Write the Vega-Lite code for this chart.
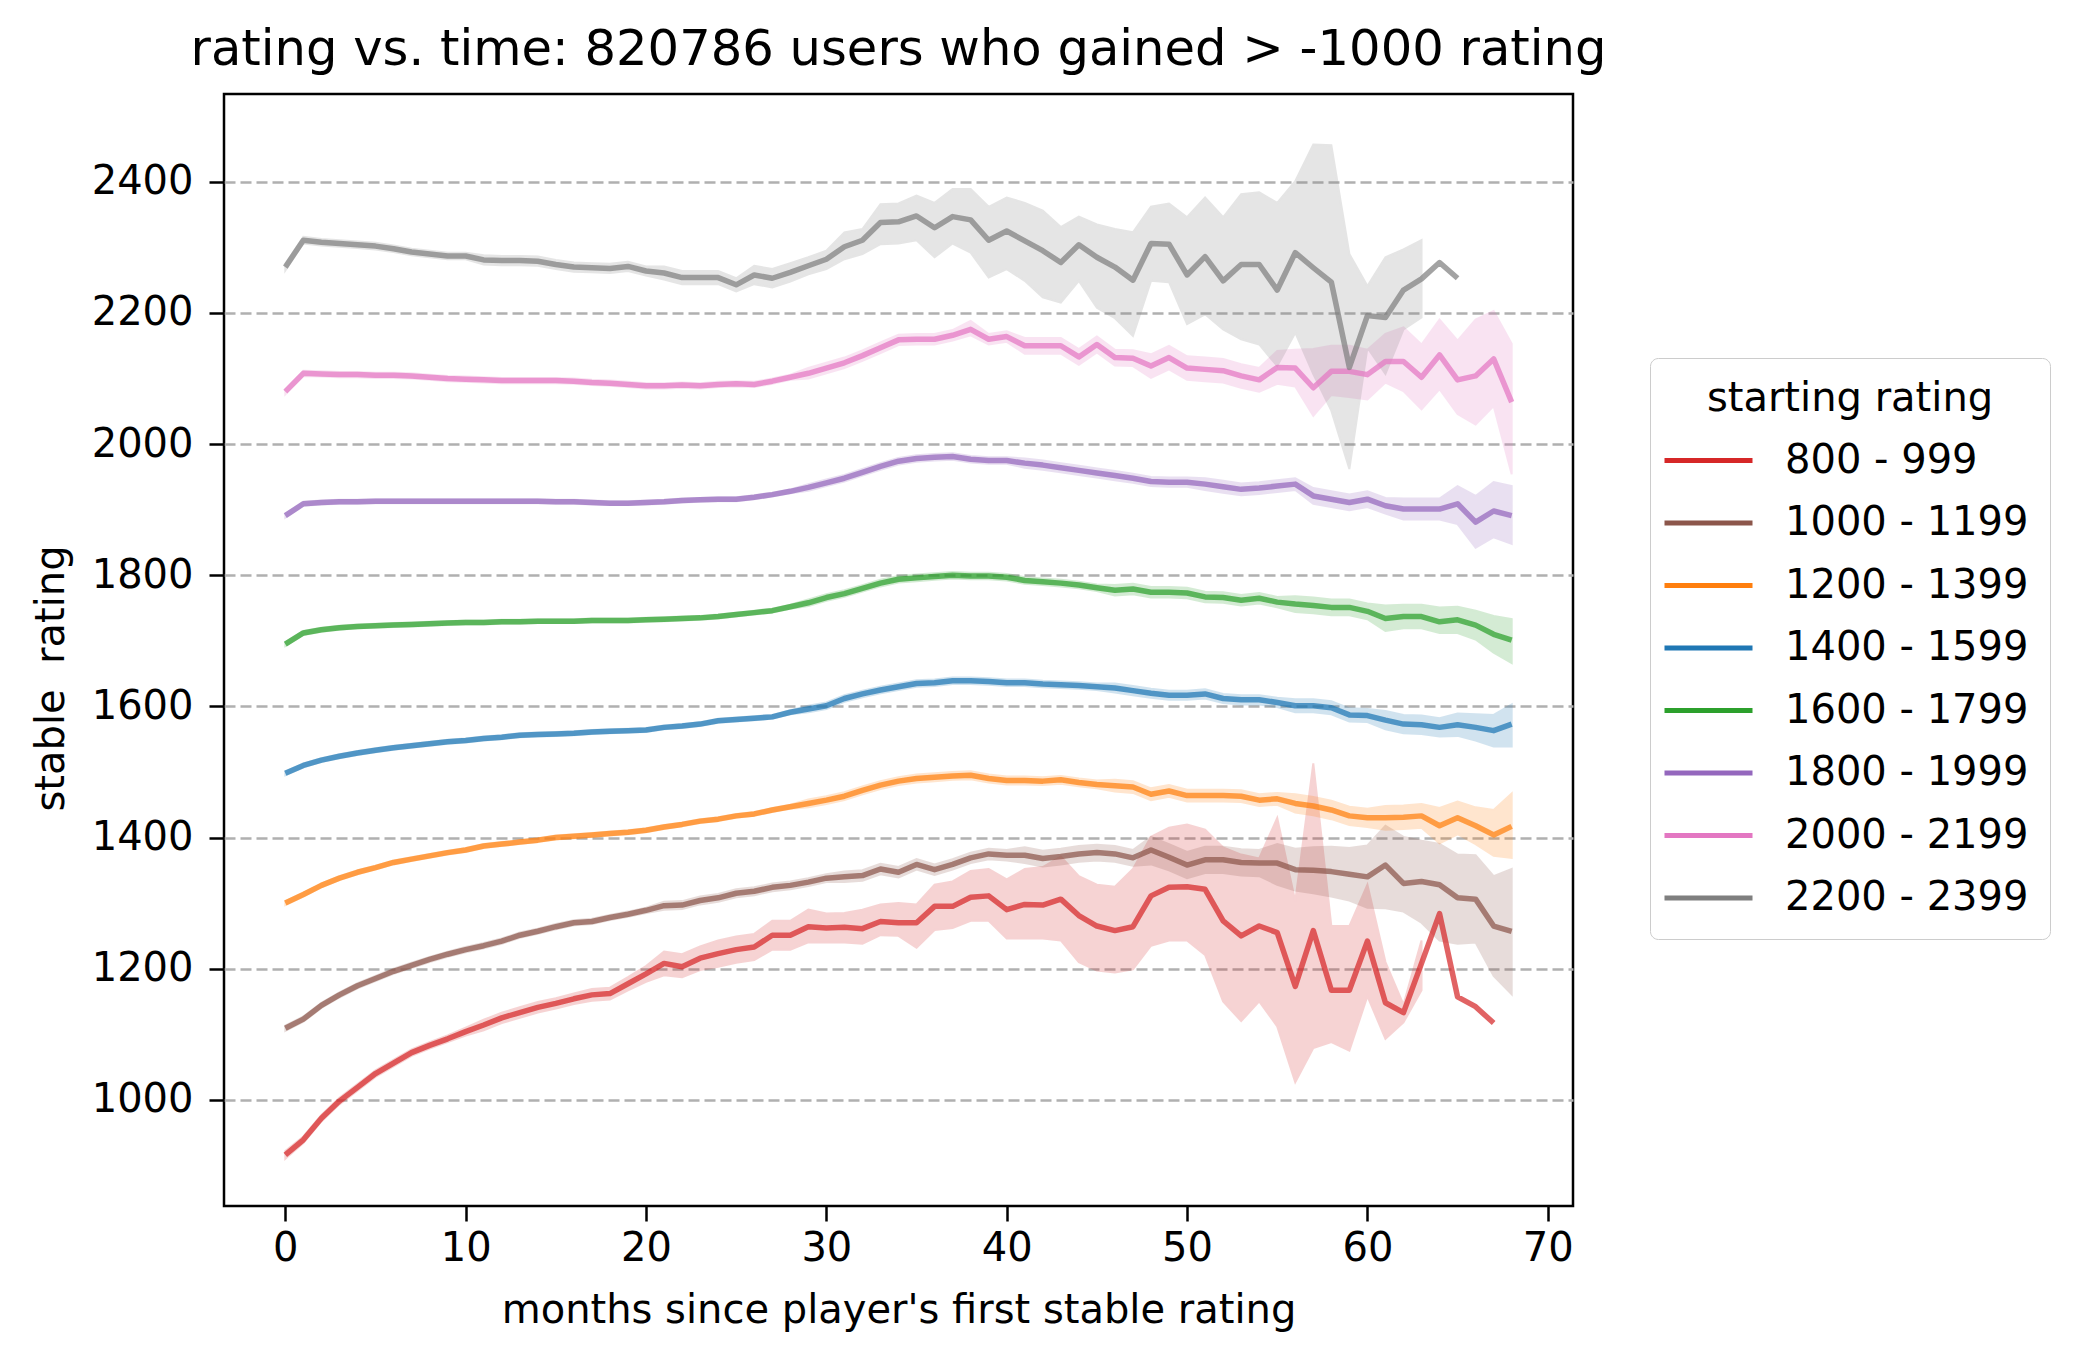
{
  "$schema": "https://vega.github.io/schema/vega-lite/v6.json",
  "autosize": {"type": "none"},
  "padding": {"left": 224, "top": 94, "right": 511, "bottom": 155},
  "width": 1349,
  "height": 1112,
  "background": "white",
  "title": {
    "text": "rating vs. time: 820786 users who gained > -1000 rating",
    "fontSize": 49.6,
    "fontWeight": "normal",
    "font": "DejaVu Sans",
    "color": "black",
    "anchor": "middle",
    "offset": 18
  },
  "data": {
    "values": [
      {"s":"800 - 999","m":0,"v":916,"lo":910,"hi":922},
      {"s":"800 - 999","m":1,"v":939,"lo":934,"hi":944},
      {"s":"800 - 999","m":2,"v":972,"lo":967,"hi":977},
      {"s":"800 - 999","m":3,"v":998,"lo":993,"hi":1003},
      {"s":"800 - 999","m":4,"v":1019,"lo":1014,"hi":1024},
      {"s":"800 - 999","m":5,"v":1040,"lo":1035,"hi":1045},
      {"s":"800 - 999","m":6,"v":1056,"lo":1051,"hi":1061},
      {"s":"800 - 999","m":7,"v":1072,"lo":1067,"hi":1077},
      {"s":"800 - 999","m":8,"v":1083,"lo":1078,"hi":1088},
      {"s":"800 - 999","m":9,"v":1093,"lo":1088,"hi":1098},
      {"s":"800 - 999","m":10,"v":1104,"lo":1098,"hi":1110},
      {"s":"800 - 999","m":11,"v":1114,"lo":1106,"hi":1122},
      {"s":"800 - 999","m":12,"v":1125,"lo":1117,"hi":1133},
      {"s":"800 - 999","m":13,"v":1133,"lo":1125,"hi":1141},
      {"s":"800 - 999","m":14,"v":1141,"lo":1133,"hi":1149},
      {"s":"800 - 999","m":15,"v":1147,"lo":1139,"hi":1155},
      {"s":"800 - 999","m":16,"v":1154,"lo":1146,"hi":1162},
      {"s":"800 - 999","m":17,"v":1160,"lo":1151,"hi":1169},
      {"s":"800 - 999","m":18,"v":1162,"lo":1153,"hi":1171},
      {"s":"800 - 999","m":19,"v":1177,"lo":1167,"hi":1187},
      {"s":"800 - 999","m":20,"v":1192,"lo":1180,"hi":1204},
      {"s":"800 - 999","m":21,"v":1208,"lo":1190,"hi":1226},
      {"s":"800 - 999","m":22,"v":1203,"lo":1187,"hi":1222},
      {"s":"800 - 999","m":23,"v":1216,"lo":1198,"hi":1234},
      {"s":"800 - 999","m":24,"v":1223,"lo":1203,"hi":1243},
      {"s":"800 - 999","m":25,"v":1229,"lo":1209,"hi":1249},
      {"s":"800 - 999","m":26,"v":1233,"lo":1213,"hi":1253},
      {"s":"800 - 999","m":27,"v":1251,"lo":1229,"hi":1273},
      {"s":"800 - 999","m":28,"v":1251,"lo":1229,"hi":1273},
      {"s":"800 - 999","m":29,"v":1264,"lo":1240,"hi":1290},
      {"s":"800 - 999","m":30,"v":1262,"lo":1240,"hi":1284},
      {"s":"800 - 999","m":31,"v":1263,"lo":1240,"hi":1285},
      {"s":"800 - 999","m":32,"v":1261,"lo":1238,"hi":1290},
      {"s":"800 - 999","m":33,"v":1272,"lo":1251,"hi":1298},
      {"s":"800 - 999","m":34,"v":1270,"lo":1250,"hi":1300},
      {"s":"800 - 999","m":35,"v":1270,"lo":1232,"hi":1298},
      {"s":"800 - 999","m":36,"v":1295,"lo":1259,"hi":1328},
      {"s":"800 - 999","m":37,"v":1295,"lo":1262,"hi":1333},
      {"s":"800 - 999","m":38,"v":1309,"lo":1273,"hi":1349},
      {"s":"800 - 999","m":39,"v":1311,"lo":1273,"hi":1352},
      {"s":"800 - 999","m":40,"v":1290,"lo":1246,"hi":1336},
      {"s":"800 - 999","m":41,"v":1298,"lo":1246,"hi":1352},
      {"s":"800 - 999","m":42,"v":1297,"lo":1246,"hi":1355},
      {"s":"800 - 999","m":43,"v":1306,"lo":1243,"hi":1371},
      {"s":"800 - 999","m":44,"v":1281,"lo":1210,"hi":1341},
      {"s":"800 - 999","m":45,"v":1265,"lo":1197,"hi":1328},
      {"s":"800 - 999","m":46,"v":1258,"lo":1194,"hi":1325},
      {"s":"800 - 999","m":47,"v":1264,"lo":1199,"hi":1352},
      {"s":"800 - 999","m":48,"v":1311,"lo":1235,"hi":1401},
      {"s":"800 - 999","m":49,"v":1324,"lo":1243,"hi":1415},
      {"s":"800 - 999","m":50,"v":1325,"lo":1243,"hi":1420},
      {"s":"800 - 999","m":51,"v":1321,"lo":1221,"hi":1412},
      {"s":"800 - 999","m":52,"v":1273,"lo":1150,"hi":1385},
      {"s":"800 - 999","m":53,"v":1250,"lo":1120,"hi":1374},
      {"s":"800 - 999","m":54,"v":1265,"lo":1150,"hi":1368},
      {"s":"800 - 999","m":55,"v":1255,"lo":1112,"hi":1430},
      {"s":"800 - 999","m":56,"v":1173,"lo":1027,"hi":1303},
      {"s":"800 - 999","m":57,"v":1258,"lo":1079,"hi":1513},
      {"s":"800 - 999","m":58,"v":1167,"lo":1088,"hi":1265},
      {"s":"800 - 999","m":59,"v":1167,"lo":1075,"hi":1265},
      {"s":"800 - 999","m":60,"v":1242,"lo":1158,"hi":1328},
      {"s":"800 - 999","m":61,"v":1148,"lo":1093,"hi":1210},
      {"s":"800 - 999","m":62,"v":1133,"lo":1118,"hi":1145},
      {"s":"800 - 999","m":63,"v":1208,"lo":1167,"hi":1243},
      {"s":"800 - 999","m":64,"v":1284},
      {"s":"800 - 999","m":65,"v":1157},
      {"s":"800 - 999","m":66,"v":1142},
      {"s":"800 - 999","m":67,"v":1117},

      {"s":"1000 - 1199","m":0,"v":1109,"lo":1105,"hi":1113},
      {"s":"1000 - 1199","m":1,"v":1123,"lo":1119,"hi":1127},
      {"s":"1000 - 1199","m":2,"v":1144,"lo":1140,"hi":1148},
      {"s":"1000 - 1199","m":3,"v":1160,"lo":1156,"hi":1164},
      {"s":"1000 - 1199","m":4,"v":1174,"lo":1170,"hi":1178},
      {"s":"1000 - 1199","m":5,"v":1185,"lo":1181,"hi":1189},
      {"s":"1000 - 1199","m":6,"v":1196,"lo":1192,"hi":1200},
      {"s":"1000 - 1199","m":7,"v":1205,"lo":1201,"hi":1209},
      {"s":"1000 - 1199","m":8,"v":1214,"lo":1210,"hi":1218},
      {"s":"1000 - 1199","m":9,"v":1222,"lo":1218,"hi":1226},
      {"s":"1000 - 1199","m":10,"v":1229,"lo":1225,"hi":1233},
      {"s":"1000 - 1199","m":11,"v":1235,"lo":1231,"hi":1239},
      {"s":"1000 - 1199","m":12,"v":1242,"lo":1238,"hi":1246},
      {"s":"1000 - 1199","m":13,"v":1251,"lo":1247,"hi":1255},
      {"s":"1000 - 1199","m":14,"v":1257,"lo":1253,"hi":1261},
      {"s":"1000 - 1199","m":15,"v":1264,"lo":1260,"hi":1268},
      {"s":"1000 - 1199","m":16,"v":1270,"lo":1266,"hi":1274},
      {"s":"1000 - 1199","m":17,"v":1272,"lo":1268,"hi":1276},
      {"s":"1000 - 1199","m":18,"v":1278,"lo":1274,"hi":1282},
      {"s":"1000 - 1199","m":19,"v":1283,"lo":1279,"hi":1287},
      {"s":"1000 - 1199","m":20,"v":1289,"lo":1285,"hi":1293},
      {"s":"1000 - 1199","m":21,"v":1296,"lo":1290,"hi":1302},
      {"s":"1000 - 1199","m":22,"v":1297,"lo":1291,"hi":1303},
      {"s":"1000 - 1199","m":23,"v":1304,"lo":1298,"hi":1310},
      {"s":"1000 - 1199","m":24,"v":1308,"lo":1302,"hi":1314},
      {"s":"1000 - 1199","m":25,"v":1315,"lo":1309,"hi":1321},
      {"s":"1000 - 1199","m":26,"v":1318,"lo":1312,"hi":1324},
      {"s":"1000 - 1199","m":27,"v":1324,"lo":1318,"hi":1330},
      {"s":"1000 - 1199","m":28,"v":1327,"lo":1321,"hi":1333},
      {"s":"1000 - 1199","m":29,"v":1332,"lo":1326,"hi":1338},
      {"s":"1000 - 1199","m":30,"v":1338,"lo":1332,"hi":1344},
      {"s":"1000 - 1199","m":31,"v":1340,"lo":1332,"hi":1348},
      {"s":"1000 - 1199","m":32,"v":1342,"lo":1334,"hi":1350},
      {"s":"1000 - 1199","m":33,"v":1352,"lo":1344,"hi":1360},
      {"s":"1000 - 1199","m":34,"v":1347,"lo":1339,"hi":1355},
      {"s":"1000 - 1199","m":35,"v":1359,"lo":1351,"hi":1367},
      {"s":"1000 - 1199","m":36,"v":1351,"lo":1343,"hi":1359},
      {"s":"1000 - 1199","m":37,"v":1359,"lo":1351,"hi":1367},
      {"s":"1000 - 1199","m":38,"v":1369,"lo":1361,"hi":1377},
      {"s":"1000 - 1199","m":39,"v":1375,"lo":1367,"hi":1383},
      {"s":"1000 - 1199","m":40,"v":1373,"lo":1365,"hi":1381},
      {"s":"1000 - 1199","m":41,"v":1373,"lo":1361,"hi":1385},
      {"s":"1000 - 1199","m":42,"v":1368,"lo":1356,"hi":1380},
      {"s":"1000 - 1199","m":43,"v":1371,"lo":1359,"hi":1383},
      {"s":"1000 - 1199","m":44,"v":1375,"lo":1363,"hi":1387},
      {"s":"1000 - 1199","m":45,"v":1377,"lo":1365,"hi":1389},
      {"s":"1000 - 1199","m":46,"v":1375,"lo":1363,"hi":1387},
      {"s":"1000 - 1199","m":47,"v":1369,"lo":1357,"hi":1381},
      {"s":"1000 - 1199","m":48,"v":1381,"lo":1359,"hi":1401},
      {"s":"1000 - 1199","m":49,"v":1370,"lo":1350,"hi":1390},
      {"s":"1000 - 1199","m":50,"v":1358,"lo":1338,"hi":1378},
      {"s":"1000 - 1199","m":51,"v":1366,"lo":1346,"hi":1386},
      {"s":"1000 - 1199","m":52,"v":1366,"lo":1346,"hi":1386},
      {"s":"1000 - 1199","m":53,"v":1362,"lo":1342,"hi":1382},
      {"s":"1000 - 1199","m":54,"v":1361,"lo":1341,"hi":1381},
      {"s":"1000 - 1199","m":55,"v":1361,"lo":1328,"hi":1390},
      {"s":"1000 - 1199","m":56,"v":1351,"lo":1319,"hi":1383},
      {"s":"1000 - 1199","m":57,"v":1350,"lo":1315,"hi":1385},
      {"s":"1000 - 1199","m":58,"v":1348,"lo":1310,"hi":1386},
      {"s":"1000 - 1199","m":59,"v":1344,"lo":1304,"hi":1384},
      {"s":"1000 - 1199","m":60,"v":1340,"lo":1293,"hi":1388},
      {"s":"1000 - 1199","m":61,"v":1358,"lo":1292,"hi":1418},
      {"s":"1000 - 1199","m":62,"v":1330,"lo":1287,"hi":1401},
      {"s":"1000 - 1199","m":63,"v":1333,"lo":1270,"hi":1395},
      {"s":"1000 - 1199","m":64,"v":1328,"lo":1243,"hi":1390},
      {"s":"1000 - 1199","m":65,"v":1308,"lo":1238,"hi":1374},
      {"s":"1000 - 1199","m":66,"v":1306,"lo":1240,"hi":1373},
      {"s":"1000 - 1199","m":67,"v":1265,"lo":1189,"hi":1341},
      {"s":"1000 - 1199","m":68,"v":1257,"lo":1161,"hi":1352},

      {"s":"1200 - 1399","m":0,"v":1300,"lo":1297,"hi":1303},
      {"s":"1200 - 1399","m":1,"v":1313,"lo":1310,"hi":1316},
      {"s":"1200 - 1399","m":2,"v":1327,"lo":1324,"hi":1330},
      {"s":"1200 - 1399","m":3,"v":1338,"lo":1335,"hi":1341},
      {"s":"1200 - 1399","m":4,"v":1347,"lo":1344,"hi":1350},
      {"s":"1200 - 1399","m":5,"v":1354,"lo":1351,"hi":1357},
      {"s":"1200 - 1399","m":6,"v":1362,"lo":1359,"hi":1365},
      {"s":"1200 - 1399","m":7,"v":1367,"lo":1364,"hi":1370},
      {"s":"1200 - 1399","m":8,"v":1372,"lo":1369,"hi":1375},
      {"s":"1200 - 1399","m":9,"v":1377,"lo":1374,"hi":1380},
      {"s":"1200 - 1399","m":10,"v":1381,"lo":1378,"hi":1384},
      {"s":"1200 - 1399","m":11,"v":1387,"lo":1384,"hi":1390},
      {"s":"1200 - 1399","m":12,"v":1390,"lo":1387,"hi":1393},
      {"s":"1200 - 1399","m":13,"v":1393,"lo":1390,"hi":1396},
      {"s":"1200 - 1399","m":14,"v":1396,"lo":1393,"hi":1399},
      {"s":"1200 - 1399","m":15,"v":1400,"lo":1397,"hi":1403},
      {"s":"1200 - 1399","m":16,"v":1402,"lo":1399,"hi":1405},
      {"s":"1200 - 1399","m":17,"v":1404,"lo":1401,"hi":1407},
      {"s":"1200 - 1399","m":18,"v":1406,"lo":1403,"hi":1409},
      {"s":"1200 - 1399","m":19,"v":1408,"lo":1405,"hi":1411},
      {"s":"1200 - 1399","m":20,"v":1411,"lo":1408,"hi":1414},
      {"s":"1200 - 1399","m":21,"v":1416,"lo":1413,"hi":1419},
      {"s":"1200 - 1399","m":22,"v":1420,"lo":1417,"hi":1423},
      {"s":"1200 - 1399","m":23,"v":1425,"lo":1422,"hi":1428},
      {"s":"1200 - 1399","m":24,"v":1428,"lo":1425,"hi":1431},
      {"s":"1200 - 1399","m":25,"v":1433,"lo":1430,"hi":1436},
      {"s":"1200 - 1399","m":26,"v":1436,"lo":1433,"hi":1439},
      {"s":"1200 - 1399","m":27,"v":1442,"lo":1439,"hi":1445},
      {"s":"1200 - 1399","m":28,"v":1447,"lo":1444,"hi":1450},
      {"s":"1200 - 1399","m":29,"v":1452,"lo":1446,"hi":1458},
      {"s":"1200 - 1399","m":30,"v":1457,"lo":1451,"hi":1463},
      {"s":"1200 - 1399","m":31,"v":1463,"lo":1457,"hi":1469},
      {"s":"1200 - 1399","m":32,"v":1472,"lo":1466,"hi":1478},
      {"s":"1200 - 1399","m":33,"v":1480,"lo":1474,"hi":1486},
      {"s":"1200 - 1399","m":34,"v":1486,"lo":1480,"hi":1492},
      {"s":"1200 - 1399","m":35,"v":1490,"lo":1484,"hi":1496},
      {"s":"1200 - 1399","m":36,"v":1492,"lo":1486,"hi":1498},
      {"s":"1200 - 1399","m":37,"v":1494,"lo":1488,"hi":1500},
      {"s":"1200 - 1399","m":38,"v":1495,"lo":1489,"hi":1501},
      {"s":"1200 - 1399","m":39,"v":1490,"lo":1484,"hi":1496},
      {"s":"1200 - 1399","m":40,"v":1487,"lo":1481,"hi":1493},
      {"s":"1200 - 1399","m":41,"v":1487,"lo":1481,"hi":1493},
      {"s":"1200 - 1399","m":42,"v":1486,"lo":1480,"hi":1492},
      {"s":"1200 - 1399","m":43,"v":1488,"lo":1482,"hi":1494},
      {"s":"1200 - 1399","m":44,"v":1484,"lo":1478,"hi":1490},
      {"s":"1200 - 1399","m":45,"v":1481,"lo":1475,"hi":1487},
      {"s":"1200 - 1399","m":46,"v":1479,"lo":1470,"hi":1488},
      {"s":"1200 - 1399","m":47,"v":1477,"lo":1468,"hi":1486},
      {"s":"1200 - 1399","m":48,"v":1466,"lo":1457,"hi":1475},
      {"s":"1200 - 1399","m":49,"v":1471,"lo":1462,"hi":1480},
      {"s":"1200 - 1399","m":50,"v":1464,"lo":1455,"hi":1473},
      {"s":"1200 - 1399","m":51,"v":1464,"lo":1455,"hi":1473},
      {"s":"1200 - 1399","m":52,"v":1464,"lo":1455,"hi":1473},
      {"s":"1200 - 1399","m":53,"v":1463,"lo":1454,"hi":1472},
      {"s":"1200 - 1399","m":54,"v":1457,"lo":1448,"hi":1466},
      {"s":"1200 - 1399","m":55,"v":1459,"lo":1450,"hi":1468},
      {"s":"1200 - 1399","m":56,"v":1452,"lo":1438,"hi":1466},
      {"s":"1200 - 1399","m":57,"v":1448,"lo":1434,"hi":1462},
      {"s":"1200 - 1399","m":58,"v":1442,"lo":1428,"hi":1456},
      {"s":"1200 - 1399","m":59,"v":1433,"lo":1419,"hi":1447},
      {"s":"1200 - 1399","m":60,"v":1430,"lo":1416,"hi":1444},
      {"s":"1200 - 1399","m":61,"v":1430,"lo":1412,"hi":1448},
      {"s":"1200 - 1399","m":62,"v":1431,"lo":1413,"hi":1449},
      {"s":"1200 - 1399","m":63,"v":1433,"lo":1415,"hi":1451},
      {"s":"1200 - 1399","m":64,"v":1418,"lo":1391,"hi":1445},
      {"s":"1200 - 1399","m":65,"v":1430,"lo":1405,"hi":1455},
      {"s":"1200 - 1399","m":66,"v":1418,"lo":1390,"hi":1446},
      {"s":"1200 - 1399","m":67,"v":1404,"lo":1372,"hi":1442},
      {"s":"1200 - 1399","m":68,"v":1417,"lo":1369,"hi":1467},

      {"s":"1400 - 1599","m":0,"v":1498,"lo":1495,"hi":1501},
      {"s":"1400 - 1599","m":1,"v":1510,"lo":1507,"hi":1513},
      {"s":"1400 - 1599","m":2,"v":1518,"lo":1515,"hi":1521},
      {"s":"1400 - 1599","m":3,"v":1524,"lo":1521,"hi":1527},
      {"s":"1400 - 1599","m":4,"v":1529,"lo":1526,"hi":1532},
      {"s":"1400 - 1599","m":5,"v":1533,"lo":1530,"hi":1536},
      {"s":"1400 - 1599","m":6,"v":1537,"lo":1534,"hi":1540},
      {"s":"1400 - 1599","m":7,"v":1540,"lo":1537,"hi":1543},
      {"s":"1400 - 1599","m":8,"v":1543,"lo":1540,"hi":1546},
      {"s":"1400 - 1599","m":9,"v":1546,"lo":1543,"hi":1549},
      {"s":"1400 - 1599","m":10,"v":1548,"lo":1545,"hi":1551},
      {"s":"1400 - 1599","m":11,"v":1551,"lo":1548,"hi":1554},
      {"s":"1400 - 1599","m":12,"v":1553,"lo":1550,"hi":1556},
      {"s":"1400 - 1599","m":13,"v":1556,"lo":1553,"hi":1559},
      {"s":"1400 - 1599","m":14,"v":1557,"lo":1554,"hi":1560},
      {"s":"1400 - 1599","m":15,"v":1558,"lo":1555,"hi":1561},
      {"s":"1400 - 1599","m":16,"v":1559,"lo":1556,"hi":1562},
      {"s":"1400 - 1599","m":17,"v":1561,"lo":1558,"hi":1564},
      {"s":"1400 - 1599","m":18,"v":1562,"lo":1559,"hi":1565},
      {"s":"1400 - 1599","m":19,"v":1563,"lo":1560,"hi":1566},
      {"s":"1400 - 1599","m":20,"v":1564,"lo":1561,"hi":1567},
      {"s":"1400 - 1599","m":21,"v":1568,"lo":1565,"hi":1571},
      {"s":"1400 - 1599","m":22,"v":1570,"lo":1567,"hi":1573},
      {"s":"1400 - 1599","m":23,"v":1573,"lo":1570,"hi":1576},
      {"s":"1400 - 1599","m":24,"v":1578,"lo":1575,"hi":1581},
      {"s":"1400 - 1599","m":25,"v":1580,"lo":1577,"hi":1583},
      {"s":"1400 - 1599","m":26,"v":1582,"lo":1579,"hi":1585},
      {"s":"1400 - 1599","m":27,"v":1584,"lo":1581,"hi":1587},
      {"s":"1400 - 1599","m":28,"v":1591,"lo":1588,"hi":1594},
      {"s":"1400 - 1599","m":29,"v":1596,"lo":1591,"hi":1601},
      {"s":"1400 - 1599","m":30,"v":1601,"lo":1596,"hi":1606},
      {"s":"1400 - 1599","m":31,"v":1612,"lo":1607,"hi":1617},
      {"s":"1400 - 1599","m":32,"v":1619,"lo":1614,"hi":1624},
      {"s":"1400 - 1599","m":33,"v":1625,"lo":1620,"hi":1630},
      {"s":"1400 - 1599","m":34,"v":1630,"lo":1625,"hi":1635},
      {"s":"1400 - 1599","m":35,"v":1635,"lo":1630,"hi":1640},
      {"s":"1400 - 1599","m":36,"v":1636,"lo":1631,"hi":1641},
      {"s":"1400 - 1599","m":37,"v":1639,"lo":1634,"hi":1644},
      {"s":"1400 - 1599","m":38,"v":1639,"lo":1634,"hi":1644},
      {"s":"1400 - 1599","m":39,"v":1638,"lo":1633,"hi":1643},
      {"s":"1400 - 1599","m":40,"v":1636,"lo":1631,"hi":1641},
      {"s":"1400 - 1599","m":41,"v":1636,"lo":1631,"hi":1641},
      {"s":"1400 - 1599","m":42,"v":1634,"lo":1629,"hi":1639},
      {"s":"1400 - 1599","m":43,"v":1633,"lo":1628,"hi":1638},
      {"s":"1400 - 1599","m":44,"v":1632,"lo":1627,"hi":1637},
      {"s":"1400 - 1599","m":45,"v":1630,"lo":1625,"hi":1635},
      {"s":"1400 - 1599","m":46,"v":1628,"lo":1621,"hi":1635},
      {"s":"1400 - 1599","m":47,"v":1624,"lo":1617,"hi":1631},
      {"s":"1400 - 1599","m":48,"v":1620,"lo":1613,"hi":1627},
      {"s":"1400 - 1599","m":49,"v":1617,"lo":1610,"hi":1624},
      {"s":"1400 - 1599","m":50,"v":1617,"lo":1610,"hi":1624},
      {"s":"1400 - 1599","m":51,"v":1619,"lo":1612,"hi":1626},
      {"s":"1400 - 1599","m":52,"v":1612,"lo":1605,"hi":1619},
      {"s":"1400 - 1599","m":53,"v":1610,"lo":1603,"hi":1617},
      {"s":"1400 - 1599","m":54,"v":1610,"lo":1603,"hi":1617},
      {"s":"1400 - 1599","m":55,"v":1606,"lo":1599,"hi":1613},
      {"s":"1400 - 1599","m":56,"v":1601,"lo":1591,"hi":1611},
      {"s":"1400 - 1599","m":57,"v":1601,"lo":1591,"hi":1611},
      {"s":"1400 - 1599","m":58,"v":1598,"lo":1588,"hi":1608},
      {"s":"1400 - 1599","m":59,"v":1587,"lo":1577,"hi":1597},
      {"s":"1400 - 1599","m":60,"v":1586,"lo":1576,"hi":1596},
      {"s":"1400 - 1599","m":61,"v":1579,"lo":1565,"hi":1593},
      {"s":"1400 - 1599","m":62,"v":1573,"lo":1559,"hi":1587},
      {"s":"1400 - 1599","m":63,"v":1572,"lo":1558,"hi":1586},
      {"s":"1400 - 1599","m":64,"v":1568,"lo":1554,"hi":1582},
      {"s":"1400 - 1599","m":65,"v":1572,"lo":1555,"hi":1589},
      {"s":"1400 - 1599","m":66,"v":1568,"lo":1548,"hi":1588},
      {"s":"1400 - 1599","m":67,"v":1563,"lo":1539,"hi":1587},
      {"s":"1400 - 1599","m":68,"v":1573,"lo":1539,"hi":1603},

      {"s":"1600 - 1799","m":0,"v":1695,"lo":1692,"hi":1698},
      {"s":"1600 - 1799","m":1,"v":1712,"lo":1709,"hi":1715},
      {"s":"1600 - 1799","m":2,"v":1717,"lo":1714,"hi":1720},
      {"s":"1600 - 1799","m":3,"v":1720,"lo":1717,"hi":1723},
      {"s":"1600 - 1799","m":4,"v":1722,"lo":1719,"hi":1725},
      {"s":"1600 - 1799","m":5,"v":1723,"lo":1720,"hi":1726},
      {"s":"1600 - 1799","m":6,"v":1724,"lo":1721,"hi":1727},
      {"s":"1600 - 1799","m":7,"v":1725,"lo":1722,"hi":1728},
      {"s":"1600 - 1799","m":8,"v":1726,"lo":1723,"hi":1729},
      {"s":"1600 - 1799","m":9,"v":1727,"lo":1724,"hi":1730},
      {"s":"1600 - 1799","m":10,"v":1728,"lo":1725,"hi":1731},
      {"s":"1600 - 1799","m":11,"v":1728,"lo":1725,"hi":1731},
      {"s":"1600 - 1799","m":12,"v":1729,"lo":1726,"hi":1732},
      {"s":"1600 - 1799","m":13,"v":1729,"lo":1726,"hi":1732},
      {"s":"1600 - 1799","m":14,"v":1730,"lo":1727,"hi":1733},
      {"s":"1600 - 1799","m":15,"v":1730,"lo":1727,"hi":1733},
      {"s":"1600 - 1799","m":16,"v":1730,"lo":1727,"hi":1733},
      {"s":"1600 - 1799","m":17,"v":1731,"lo":1728,"hi":1734},
      {"s":"1600 - 1799","m":18,"v":1731,"lo":1728,"hi":1734},
      {"s":"1600 - 1799","m":19,"v":1731,"lo":1728,"hi":1734},
      {"s":"1600 - 1799","m":20,"v":1732,"lo":1729,"hi":1735},
      {"s":"1600 - 1799","m":21,"v":1733,"lo":1730,"hi":1736},
      {"s":"1600 - 1799","m":22,"v":1734,"lo":1731,"hi":1737},
      {"s":"1600 - 1799","m":23,"v":1735,"lo":1732,"hi":1738},
      {"s":"1600 - 1799","m":24,"v":1737,"lo":1734,"hi":1740},
      {"s":"1600 - 1799","m":25,"v":1740,"lo":1737,"hi":1743},
      {"s":"1600 - 1799","m":26,"v":1743,"lo":1740,"hi":1746},
      {"s":"1600 - 1799","m":27,"v":1746,"lo":1743,"hi":1749},
      {"s":"1600 - 1799","m":28,"v":1752,"lo":1749,"hi":1755},
      {"s":"1600 - 1799","m":29,"v":1758,"lo":1753,"hi":1763},
      {"s":"1600 - 1799","m":30,"v":1766,"lo":1761,"hi":1771},
      {"s":"1600 - 1799","m":31,"v":1772,"lo":1767,"hi":1777},
      {"s":"1600 - 1799","m":32,"v":1780,"lo":1775,"hi":1785},
      {"s":"1600 - 1799","m":33,"v":1788,"lo":1783,"hi":1793},
      {"s":"1600 - 1799","m":34,"v":1794,"lo":1789,"hi":1799},
      {"s":"1600 - 1799","m":35,"v":1796,"lo":1791,"hi":1801},
      {"s":"1600 - 1799","m":36,"v":1798,"lo":1793,"hi":1803},
      {"s":"1600 - 1799","m":37,"v":1800,"lo":1795,"hi":1805},
      {"s":"1600 - 1799","m":38,"v":1799,"lo":1794,"hi":1804},
      {"s":"1600 - 1799","m":39,"v":1799,"lo":1794,"hi":1804},
      {"s":"1600 - 1799","m":40,"v":1797,"lo":1792,"hi":1802},
      {"s":"1600 - 1799","m":41,"v":1792,"lo":1787,"hi":1797},
      {"s":"1600 - 1799","m":42,"v":1790,"lo":1785,"hi":1795},
      {"s":"1600 - 1799","m":43,"v":1788,"lo":1783,"hi":1793},
      {"s":"1600 - 1799","m":44,"v":1785,"lo":1780,"hi":1790},
      {"s":"1600 - 1799","m":45,"v":1781,"lo":1776,"hi":1786},
      {"s":"1600 - 1799","m":46,"v":1777,"lo":1769,"hi":1785},
      {"s":"1600 - 1799","m":47,"v":1779,"lo":1771,"hi":1787},
      {"s":"1600 - 1799","m":48,"v":1774,"lo":1766,"hi":1782},
      {"s":"1600 - 1799","m":49,"v":1774,"lo":1766,"hi":1782},
      {"s":"1600 - 1799","m":50,"v":1773,"lo":1765,"hi":1781},
      {"s":"1600 - 1799","m":51,"v":1767,"lo":1759,"hi":1775},
      {"s":"1600 - 1799","m":52,"v":1766,"lo":1758,"hi":1774},
      {"s":"1600 - 1799","m":53,"v":1762,"lo":1754,"hi":1770},
      {"s":"1600 - 1799","m":54,"v":1765,"lo":1757,"hi":1773},
      {"s":"1600 - 1799","m":55,"v":1759,"lo":1751,"hi":1767},
      {"s":"1600 - 1799","m":56,"v":1756,"lo":1744,"hi":1768},
      {"s":"1600 - 1799","m":57,"v":1754,"lo":1742,"hi":1766},
      {"s":"1600 - 1799","m":58,"v":1751,"lo":1739,"hi":1763},
      {"s":"1600 - 1799","m":59,"v":1751,"lo":1739,"hi":1763},
      {"s":"1600 - 1799","m":60,"v":1745,"lo":1733,"hi":1757},
      {"s":"1600 - 1799","m":61,"v":1734,"lo":1715,"hi":1754},
      {"s":"1600 - 1799","m":62,"v":1737,"lo":1719,"hi":1755},
      {"s":"1600 - 1799","m":63,"v":1737,"lo":1719,"hi":1755},
      {"s":"1600 - 1799","m":64,"v":1729,"lo":1712,"hi":1751},
      {"s":"1600 - 1799","m":65,"v":1732,"lo":1712,"hi":1752},
      {"s":"1600 - 1799","m":66,"v":1724,"lo":1702,"hi":1746},
      {"s":"1600 - 1799","m":67,"v":1710,"lo":1682,"hi":1738},
      {"s":"1600 - 1799","m":68,"v":1701,"lo":1666,"hi":1733},

      {"s":"1800 - 1999","m":0,"v":1891,"lo":1888,"hi":1894},
      {"s":"1800 - 1999","m":1,"v":1909,"lo":1906,"hi":1912},
      {"s":"1800 - 1999","m":2,"v":1911,"lo":1908,"hi":1914},
      {"s":"1800 - 1999","m":3,"v":1912,"lo":1909,"hi":1915},
      {"s":"1800 - 1999","m":4,"v":1912,"lo":1909,"hi":1915},
      {"s":"1800 - 1999","m":5,"v":1913,"lo":1910,"hi":1916},
      {"s":"1800 - 1999","m":6,"v":1913,"lo":1910,"hi":1916},
      {"s":"1800 - 1999","m":7,"v":1913,"lo":1910,"hi":1916},
      {"s":"1800 - 1999","m":8,"v":1913,"lo":1910,"hi":1916},
      {"s":"1800 - 1999","m":9,"v":1913,"lo":1910,"hi":1916},
      {"s":"1800 - 1999","m":10,"v":1913,"lo":1910,"hi":1916},
      {"s":"1800 - 1999","m":11,"v":1913,"lo":1910,"hi":1916},
      {"s":"1800 - 1999","m":12,"v":1913,"lo":1910,"hi":1916},
      {"s":"1800 - 1999","m":13,"v":1913,"lo":1910,"hi":1916},
      {"s":"1800 - 1999","m":14,"v":1913,"lo":1910,"hi":1916},
      {"s":"1800 - 1999","m":15,"v":1912,"lo":1909,"hi":1915},
      {"s":"1800 - 1999","m":16,"v":1912,"lo":1909,"hi":1915},
      {"s":"1800 - 1999","m":17,"v":1911,"lo":1908,"hi":1914},
      {"s":"1800 - 1999","m":18,"v":1910,"lo":1907,"hi":1913},
      {"s":"1800 - 1999","m":19,"v":1910,"lo":1907,"hi":1913},
      {"s":"1800 - 1999","m":20,"v":1911,"lo":1908,"hi":1914},
      {"s":"1800 - 1999","m":21,"v":1912,"lo":1909,"hi":1915},
      {"s":"1800 - 1999","m":22,"v":1914,"lo":1911,"hi":1917},
      {"s":"1800 - 1999","m":23,"v":1915,"lo":1912,"hi":1918},
      {"s":"1800 - 1999","m":24,"v":1916,"lo":1913,"hi":1919},
      {"s":"1800 - 1999","m":25,"v":1916,"lo":1913,"hi":1919},
      {"s":"1800 - 1999","m":26,"v":1919,"lo":1916,"hi":1922},
      {"s":"1800 - 1999","m":27,"v":1923,"lo":1920,"hi":1926},
      {"s":"1800 - 1999","m":28,"v":1928,"lo":1925,"hi":1931},
      {"s":"1800 - 1999","m":29,"v":1934,"lo":1929,"hi":1939},
      {"s":"1800 - 1999","m":30,"v":1941,"lo":1936,"hi":1946},
      {"s":"1800 - 1999","m":31,"v":1948,"lo":1943,"hi":1953},
      {"s":"1800 - 1999","m":32,"v":1957,"lo":1952,"hi":1962},
      {"s":"1800 - 1999","m":33,"v":1966,"lo":1961,"hi":1971},
      {"s":"1800 - 1999","m":34,"v":1974,"lo":1969,"hi":1979},
      {"s":"1800 - 1999","m":35,"v":1978,"lo":1973,"hi":1983},
      {"s":"1800 - 1999","m":36,"v":1980,"lo":1975,"hi":1985},
      {"s":"1800 - 1999","m":37,"v":1981,"lo":1976,"hi":1986},
      {"s":"1800 - 1999","m":38,"v":1977,"lo":1972,"hi":1982},
      {"s":"1800 - 1999","m":39,"v":1975,"lo":1970,"hi":1980},
      {"s":"1800 - 1999","m":40,"v":1975,"lo":1970,"hi":1980},
      {"s":"1800 - 1999","m":41,"v":1971,"lo":1964,"hi":1978},
      {"s":"1800 - 1999","m":42,"v":1968,"lo":1961,"hi":1975},
      {"s":"1800 - 1999","m":43,"v":1964,"lo":1957,"hi":1971},
      {"s":"1800 - 1999","m":44,"v":1960,"lo":1953,"hi":1967},
      {"s":"1800 - 1999","m":45,"v":1956,"lo":1949,"hi":1963},
      {"s":"1800 - 1999","m":46,"v":1952,"lo":1945,"hi":1959},
      {"s":"1800 - 1999","m":47,"v":1948,"lo":1941,"hi":1955},
      {"s":"1800 - 1999","m":48,"v":1943,"lo":1936,"hi":1950},
      {"s":"1800 - 1999","m":49,"v":1942,"lo":1935,"hi":1949},
      {"s":"1800 - 1999","m":50,"v":1942,"lo":1935,"hi":1949},
      {"s":"1800 - 1999","m":51,"v":1939,"lo":1930,"hi":1948},
      {"s":"1800 - 1999","m":52,"v":1935,"lo":1926,"hi":1944},
      {"s":"1800 - 1999","m":53,"v":1931,"lo":1922,"hi":1940},
      {"s":"1800 - 1999","m":54,"v":1933,"lo":1924,"hi":1942},
      {"s":"1800 - 1999","m":55,"v":1936,"lo":1927,"hi":1945},
      {"s":"1800 - 1999","m":56,"v":1939,"lo":1930,"hi":1948},
      {"s":"1800 - 1999","m":57,"v":1921,"lo":1909,"hi":1933},
      {"s":"1800 - 1999","m":58,"v":1916,"lo":1904,"hi":1928},
      {"s":"1800 - 1999","m":59,"v":1911,"lo":1899,"hi":1923},
      {"s":"1800 - 1999","m":60,"v":1916,"lo":1904,"hi":1928},
      {"s":"1800 - 1999","m":61,"v":1906,"lo":1894,"hi":1918},
      {"s":"1800 - 1999","m":62,"v":1901,"lo":1885,"hi":1917},
      {"s":"1800 - 1999","m":63,"v":1901,"lo":1885,"hi":1917},
      {"s":"1800 - 1999","m":64,"v":1901,"lo":1885,"hi":1917},
      {"s":"1800 - 1999","m":65,"v":1909,"lo":1878,"hi":1936},
      {"s":"1800 - 1999","m":66,"v":1881,"lo":1842,"hi":1921},
      {"s":"1800 - 1999","m":67,"v":1898,"lo":1858,"hi":1942},
      {"s":"1800 - 1999","m":68,"v":1891,"lo":1848,"hi":1936},

      {"s":"2000 - 2199","m":0,"v":2080,"lo":2076,"hi":2084},
      {"s":"2000 - 2199","m":1,"v":2108,"lo":2104,"hi":2112},
      {"s":"2000 - 2199","m":2,"v":2107,"lo":2103,"hi":2111},
      {"s":"2000 - 2199","m":3,"v":2106,"lo":2102,"hi":2110},
      {"s":"2000 - 2199","m":4,"v":2106,"lo":2102,"hi":2110},
      {"s":"2000 - 2199","m":5,"v":2105,"lo":2101,"hi":2109},
      {"s":"2000 - 2199","m":6,"v":2105,"lo":2101,"hi":2109},
      {"s":"2000 - 2199","m":7,"v":2104,"lo":2100,"hi":2108},
      {"s":"2000 - 2199","m":8,"v":2102,"lo":2098,"hi":2106},
      {"s":"2000 - 2199","m":9,"v":2100,"lo":2096,"hi":2104},
      {"s":"2000 - 2199","m":10,"v":2099,"lo":2095,"hi":2103},
      {"s":"2000 - 2199","m":11,"v":2098,"lo":2094,"hi":2102},
      {"s":"2000 - 2199","m":12,"v":2097,"lo":2093,"hi":2101},
      {"s":"2000 - 2199","m":13,"v":2097,"lo":2093,"hi":2101},
      {"s":"2000 - 2199","m":14,"v":2097,"lo":2093,"hi":2101},
      {"s":"2000 - 2199","m":15,"v":2097,"lo":2093,"hi":2101},
      {"s":"2000 - 2199","m":16,"v":2096,"lo":2092,"hi":2100},
      {"s":"2000 - 2199","m":17,"v":2094,"lo":2090,"hi":2098},
      {"s":"2000 - 2199","m":18,"v":2093,"lo":2089,"hi":2097},
      {"s":"2000 - 2199","m":19,"v":2091,"lo":2087,"hi":2095},
      {"s":"2000 - 2199","m":20,"v":2089,"lo":2085,"hi":2093},
      {"s":"2000 - 2199","m":21,"v":2089,"lo":2085,"hi":2093},
      {"s":"2000 - 2199","m":22,"v":2090,"lo":2086,"hi":2094},
      {"s":"2000 - 2199","m":23,"v":2089,"lo":2085,"hi":2093},
      {"s":"2000 - 2199","m":24,"v":2091,"lo":2087,"hi":2095},
      {"s":"2000 - 2199","m":25,"v":2092,"lo":2088,"hi":2096},
      {"s":"2000 - 2199","m":26,"v":2091,"lo":2087,"hi":2095},
      {"s":"2000 - 2199","m":27,"v":2096,"lo":2092,"hi":2100},
      {"s":"2000 - 2199","m":28,"v":2102,"lo":2098,"hi":2106},
      {"s":"2000 - 2199","m":29,"v":2108,"lo":2100,"hi":2116},
      {"s":"2000 - 2199","m":30,"v":2116,"lo":2108,"hi":2124},
      {"s":"2000 - 2199","m":31,"v":2124,"lo":2116,"hi":2132},
      {"s":"2000 - 2199","m":32,"v":2135,"lo":2127,"hi":2143},
      {"s":"2000 - 2199","m":33,"v":2147,"lo":2139,"hi":2155},
      {"s":"2000 - 2199","m":34,"v":2159,"lo":2151,"hi":2167},
      {"s":"2000 - 2199","m":35,"v":2160,"lo":2152,"hi":2168},
      {"s":"2000 - 2199","m":36,"v":2160,"lo":2152,"hi":2168},
      {"s":"2000 - 2199","m":37,"v":2166,"lo":2158,"hi":2174},
      {"s":"2000 - 2199","m":38,"v":2175,"lo":2166,"hi":2188},
      {"s":"2000 - 2199","m":39,"v":2160,"lo":2152,"hi":2168},
      {"s":"2000 - 2199","m":40,"v":2164,"lo":2156,"hi":2172},
      {"s":"2000 - 2199","m":41,"v":2150,"lo":2138,"hi":2162},
      {"s":"2000 - 2199","m":42,"v":2150,"lo":2138,"hi":2162},
      {"s":"2000 - 2199","m":43,"v":2150,"lo":2138,"hi":2162},
      {"s":"2000 - 2199","m":44,"v":2133,"lo":2121,"hi":2145},
      {"s":"2000 - 2199","m":45,"v":2152,"lo":2140,"hi":2164},
      {"s":"2000 - 2199","m":46,"v":2132,"lo":2120,"hi":2144},
      {"s":"2000 - 2199","m":47,"v":2131,"lo":2119,"hi":2143},
      {"s":"2000 - 2199","m":48,"v":2119,"lo":2101,"hi":2137},
      {"s":"2000 - 2199","m":49,"v":2132,"lo":2114,"hi":2150},
      {"s":"2000 - 2199","m":50,"v":2116,"lo":2098,"hi":2134},
      {"s":"2000 - 2199","m":51,"v":2114,"lo":2096,"hi":2132},
      {"s":"2000 - 2199","m":52,"v":2112,"lo":2094,"hi":2130},
      {"s":"2000 - 2199","m":53,"v":2104,"lo":2086,"hi":2122},
      {"s":"2000 - 2199","m":54,"v":2098,"lo":2080,"hi":2116},
      {"s":"2000 - 2199","m":55,"v":2117,"lo":2092,"hi":2142},
      {"s":"2000 - 2199","m":56,"v":2116,"lo":2088,"hi":2144},
      {"s":"2000 - 2199","m":57,"v":2086,"lo":2043,"hi":2145},
      {"s":"2000 - 2199","m":58,"v":2111,"lo":2075,"hi":2150},
      {"s":"2000 - 2199","m":59,"v":2111,"lo":2072,"hi":2150},
      {"s":"2000 - 2199","m":60,"v":2106,"lo":2068,"hi":2144},
      {"s":"2000 - 2199","m":61,"v":2126,"lo":2094,"hi":2168},
      {"s":"2000 - 2199","m":62,"v":2126,"lo":2081,"hi":2178},
      {"s":"2000 - 2199","m":63,"v":2102,"lo":2053,"hi":2152},
      {"s":"2000 - 2199","m":64,"v":2136,"lo":2084,"hi":2190},
      {"s":"2000 - 2199","m":65,"v":2098,"lo":2046,"hi":2158},
      {"s":"2000 - 2199","m":66,"v":2104,"lo":2030,"hi":2190},
      {"s":"2000 - 2199","m":67,"v":2130,"lo":2058,"hi":2203},
      {"s":"2000 - 2199","m":68,"v":2064,"lo":1954,"hi":2153},

      {"s":"2200 - 2399","m":0,"v":2270,"lo":2265,"hi":2275},
      {"s":"2200 - 2399","m":1,"v":2311,"lo":2306,"hi":2316},
      {"s":"2200 - 2399","m":2,"v":2308,"lo":2303,"hi":2313},
      {"s":"2200 - 2399","m":3,"v":2306,"lo":2301,"hi":2311},
      {"s":"2200 - 2399","m":4,"v":2304,"lo":2299,"hi":2309},
      {"s":"2200 - 2399","m":5,"v":2302,"lo":2297,"hi":2307},
      {"s":"2200 - 2399","m":6,"v":2298,"lo":2293,"hi":2303},
      {"s":"2200 - 2399","m":7,"v":2293,"lo":2288,"hi":2298},
      {"s":"2200 - 2399","m":8,"v":2290,"lo":2285,"hi":2295},
      {"s":"2200 - 2399","m":9,"v":2287,"lo":2282,"hi":2292},
      {"s":"2200 - 2399","m":10,"v":2287,"lo":2282,"hi":2292},
      {"s":"2200 - 2399","m":11,"v":2281,"lo":2274,"hi":2288},
      {"s":"2200 - 2399","m":12,"v":2280,"lo":2273,"hi":2287},
      {"s":"2200 - 2399","m":13,"v":2280,"lo":2273,"hi":2287},
      {"s":"2200 - 2399","m":14,"v":2279,"lo":2272,"hi":2286},
      {"s":"2200 - 2399","m":15,"v":2274,"lo":2267,"hi":2281},
      {"s":"2200 - 2399","m":16,"v":2270,"lo":2263,"hi":2277},
      {"s":"2200 - 2399","m":17,"v":2269,"lo":2262,"hi":2276},
      {"s":"2200 - 2399","m":18,"v":2268,"lo":2261,"hi":2275},
      {"s":"2200 - 2399","m":19,"v":2271,"lo":2264,"hi":2278},
      {"s":"2200 - 2399","m":20,"v":2264,"lo":2257,"hi":2271},
      {"s":"2200 - 2399","m":21,"v":2261,"lo":2251,"hi":2271},
      {"s":"2200 - 2399","m":22,"v":2254,"lo":2244,"hi":2264},
      {"s":"2200 - 2399","m":23,"v":2254,"lo":2244,"hi":2264},
      {"s":"2200 - 2399","m":24,"v":2254,"lo":2244,"hi":2264},
      {"s":"2200 - 2399","m":25,"v":2243,"lo":2233,"hi":2253},
      {"s":"2200 - 2399","m":26,"v":2258,"lo":2244,"hi":2272},
      {"s":"2200 - 2399","m":27,"v":2253,"lo":2239,"hi":2267},
      {"s":"2200 - 2399","m":28,"v":2262,"lo":2248,"hi":2276},
      {"s":"2200 - 2399","m":29,"v":2272,"lo":2259,"hi":2285},
      {"s":"2200 - 2399","m":30,"v":2282,"lo":2267,"hi":2295},
      {"s":"2200 - 2399","m":31,"v":2301,"lo":2282,"hi":2323},
      {"s":"2200 - 2399","m":32,"v":2311,"lo":2290,"hi":2328},
      {"s":"2200 - 2399","m":33,"v":2338,"lo":2305,"hi":2366},
      {"s":"2200 - 2399","m":34,"v":2339,"lo":2306,"hi":2367},
      {"s":"2200 - 2399","m":35,"v":2348,"lo":2311,"hi":2379},
      {"s":"2200 - 2399","m":36,"v":2330,"lo":2285,"hi":2368},
      {"s":"2200 - 2399","m":37,"v":2347,"lo":2306,"hi":2389},
      {"s":"2200 - 2399","m":38,"v":2342,"lo":2292,"hi":2389},
      {"s":"2200 - 2399","m":39,"v":2311,"lo":2254,"hi":2362},
      {"s":"2200 - 2399","m":40,"v":2325,"lo":2267,"hi":2376},
      {"s":"2200 - 2399","m":41,"v":2310,"lo":2249,"hi":2368},
      {"s":"2200 - 2399","m":42,"v":2295,"lo":2224,"hi":2356},
      {"s":"2200 - 2399","m":43,"v":2277,"lo":2216,"hi":2331},
      {"s":"2200 - 2399","m":44,"v":2304,"lo":2249,"hi":2347},
      {"s":"2200 - 2399","m":45,"v":2285,"lo":2208,"hi":2335},
      {"s":"2200 - 2399","m":46,"v":2270,"lo":2192,"hi":2328},
      {"s":"2200 - 2399","m":47,"v":2250,"lo":2165,"hi":2323},
      {"s":"2200 - 2399","m":48,"v":2306,"lo":2249,"hi":2362},
      {"s":"2200 - 2399","m":49,"v":2305,"lo":2247,"hi":2367},
      {"s":"2200 - 2399","m":50,"v":2258,"lo":2183,"hi":2346},
      {"s":"2200 - 2399","m":51,"v":2286,"lo":2198,"hi":2376},
      {"s":"2200 - 2399","m":52,"v":2249,"lo":2175,"hi":2346},
      {"s":"2200 - 2399","m":53,"v":2274,"lo":2160,"hi":2381},
      {"s":"2200 - 2399","m":54,"v":2274,"lo":2152,"hi":2384},
      {"s":"2200 - 2399","m":55,"v":2235,"lo":2119,"hi":2368},
      {"s":"2200 - 2399","m":56,"v":2292,"lo":2170,"hi":2401},
      {"s":"2200 - 2399","m":57,"v":2269,"lo":2107,"hi":2457},
      {"s":"2200 - 2399","m":58,"v":2247,"lo":2051,"hi":2456},
      {"s":"2200 - 2399","m":59,"v":2117,"lo":1962,"hi":2290},
      {"s":"2200 - 2399","m":60,"v":2196,"lo":2147,"hi":2241},
      {"s":"2200 - 2399","m":61,"v":2193,"lo":2107,"hi":2285},
      {"s":"2200 - 2399","m":62,"v":2235,"lo":2175,"hi":2297},
      {"s":"2200 - 2399","m":63,"v":2252,"lo":2193,"hi":2311},
      {"s":"2200 - 2399","m":64,"v":2277},
      {"s":"2200 - 2399","m":65,"v":2253}
    ]
  },
  "encoding": {
    "x": {
      "field": "m",
      "type": "quantitative",
      "scale": {"domain": [-3.4, 71.4], "nice": false, "zero": false},
      "axis": {
        "title": "months since player's first stable rating",
        "values": [0, 10, 20, 30, 40, 50, 60, 70],
        "grid": false,
        "labelPadding": 7,
        "titlePadding": 22,
        "labelFlush": false
      }
    },
    "color": {
      "field": "s",
      "type": "nominal",
      "scale": {
        "domain": ["800 - 999", "1000 - 1199", "1200 - 1399", "1400 - 1599", "1600 - 1799", "1800 - 1999", "2000 - 2199", "2200 - 2399"],
        "range": ["#d62728", "#8c564b", "#ff7f0e", "#1f77b4", "#2ca02c", "#9467bd", "#e377c2", "#7f7f7f"]
      },
      "legend": {
        "orient": "none",
        "legendX": 1426,
        "legendY": 264,
        "title": "starting rating",
        "titleFontSize": 40,
        "titleFontWeight": "normal",
        "titleColor": "black",
        "titleAnchor": "middle",
        "titlePadding": 17,
        "titleLimit": 600,
        "labelFontSize": 40,
        "labelColor": "black",
        "labelLimit": 600,
        "labelOffset": 52,
        "symbolType": "M-2,0H2",
        "symbolStrokeWidth": 5,
        "symbolSize": 1936,
        "symbolOffset": 13,
        "symbolOpacity": 1,
        "rowPadding": 17.5,
        "padding": 21,
        "strokeColor": "#cccccc",
        "fillColor": "white",
        "cornerRadius": 8
      }
    }
  },
  "layer": [
    {
      "transform": [{"filter": "datum.lo != null"}],
      "mark": {"type": "area", "opacity": 0.2, "strokeWidth": 2},
      "encoding": {
        "y": {"field": "lo", "type": "quantitative"},
        "y2": {"field": "hi"},
        "stroke": {
          "field": "s",
          "type": "nominal",
          "scale": {
            "domain": ["800 - 999", "1000 - 1199", "1200 - 1399", "1400 - 1599", "1600 - 1799", "1800 - 1999", "2000 - 2199", "2200 - 2399"],
            "range": ["#d62728", "#8c564b", "#ff7f0e", "#1f77b4", "#2ca02c", "#9467bd", "#e377c2", "#7f7f7f"]
          },
          "legend": null
        }
      }
    },
    {
      "mark": {"type": "line", "strokeWidth": 5.5, "opacity": 0.72, "strokeJoin": "round"},
      "encoding": {
        "y": {
          "field": "v",
          "type": "quantitative",
          "scale": {"domain": [838, 2534], "nice": false, "zero": false},
          "axis": {
            "title": "stable \u00a0rating",
            "format": "d",
            "values": [1000, 1200, 1400, 1600, 1800, 2000, 2200, 2400],
            "grid": true,
            "labelPadding": 16,
            "titlePadding": 20,
            "titleY": 584
          }
        }
      }
    }
  ],
  "config": {
    "font": "DejaVu Sans",
    "view": {"stroke": "black", "strokeWidth": 2.5},
    "axis": {
      "labelFont": "DejaVu Sans",
      "labelFontSize": 40,
      "labelColor": "black",
      "titleFont": "DejaVu Sans",
      "titleFontSize": 40,
      "titleFontWeight": "normal",
      "titleColor": "black",
      "tickColor": "black",
      "tickWidth": 2.5,
      "tickSize": 15,
      "domain": false,
      "gridColor": "#b0b0b0",
      "gridDash": [11, 5],
      "gridWidth": 2.5
    },
    "legend": {"labelFont": "DejaVu Sans", "titleFont": "DejaVu Sans"}
  }
}
